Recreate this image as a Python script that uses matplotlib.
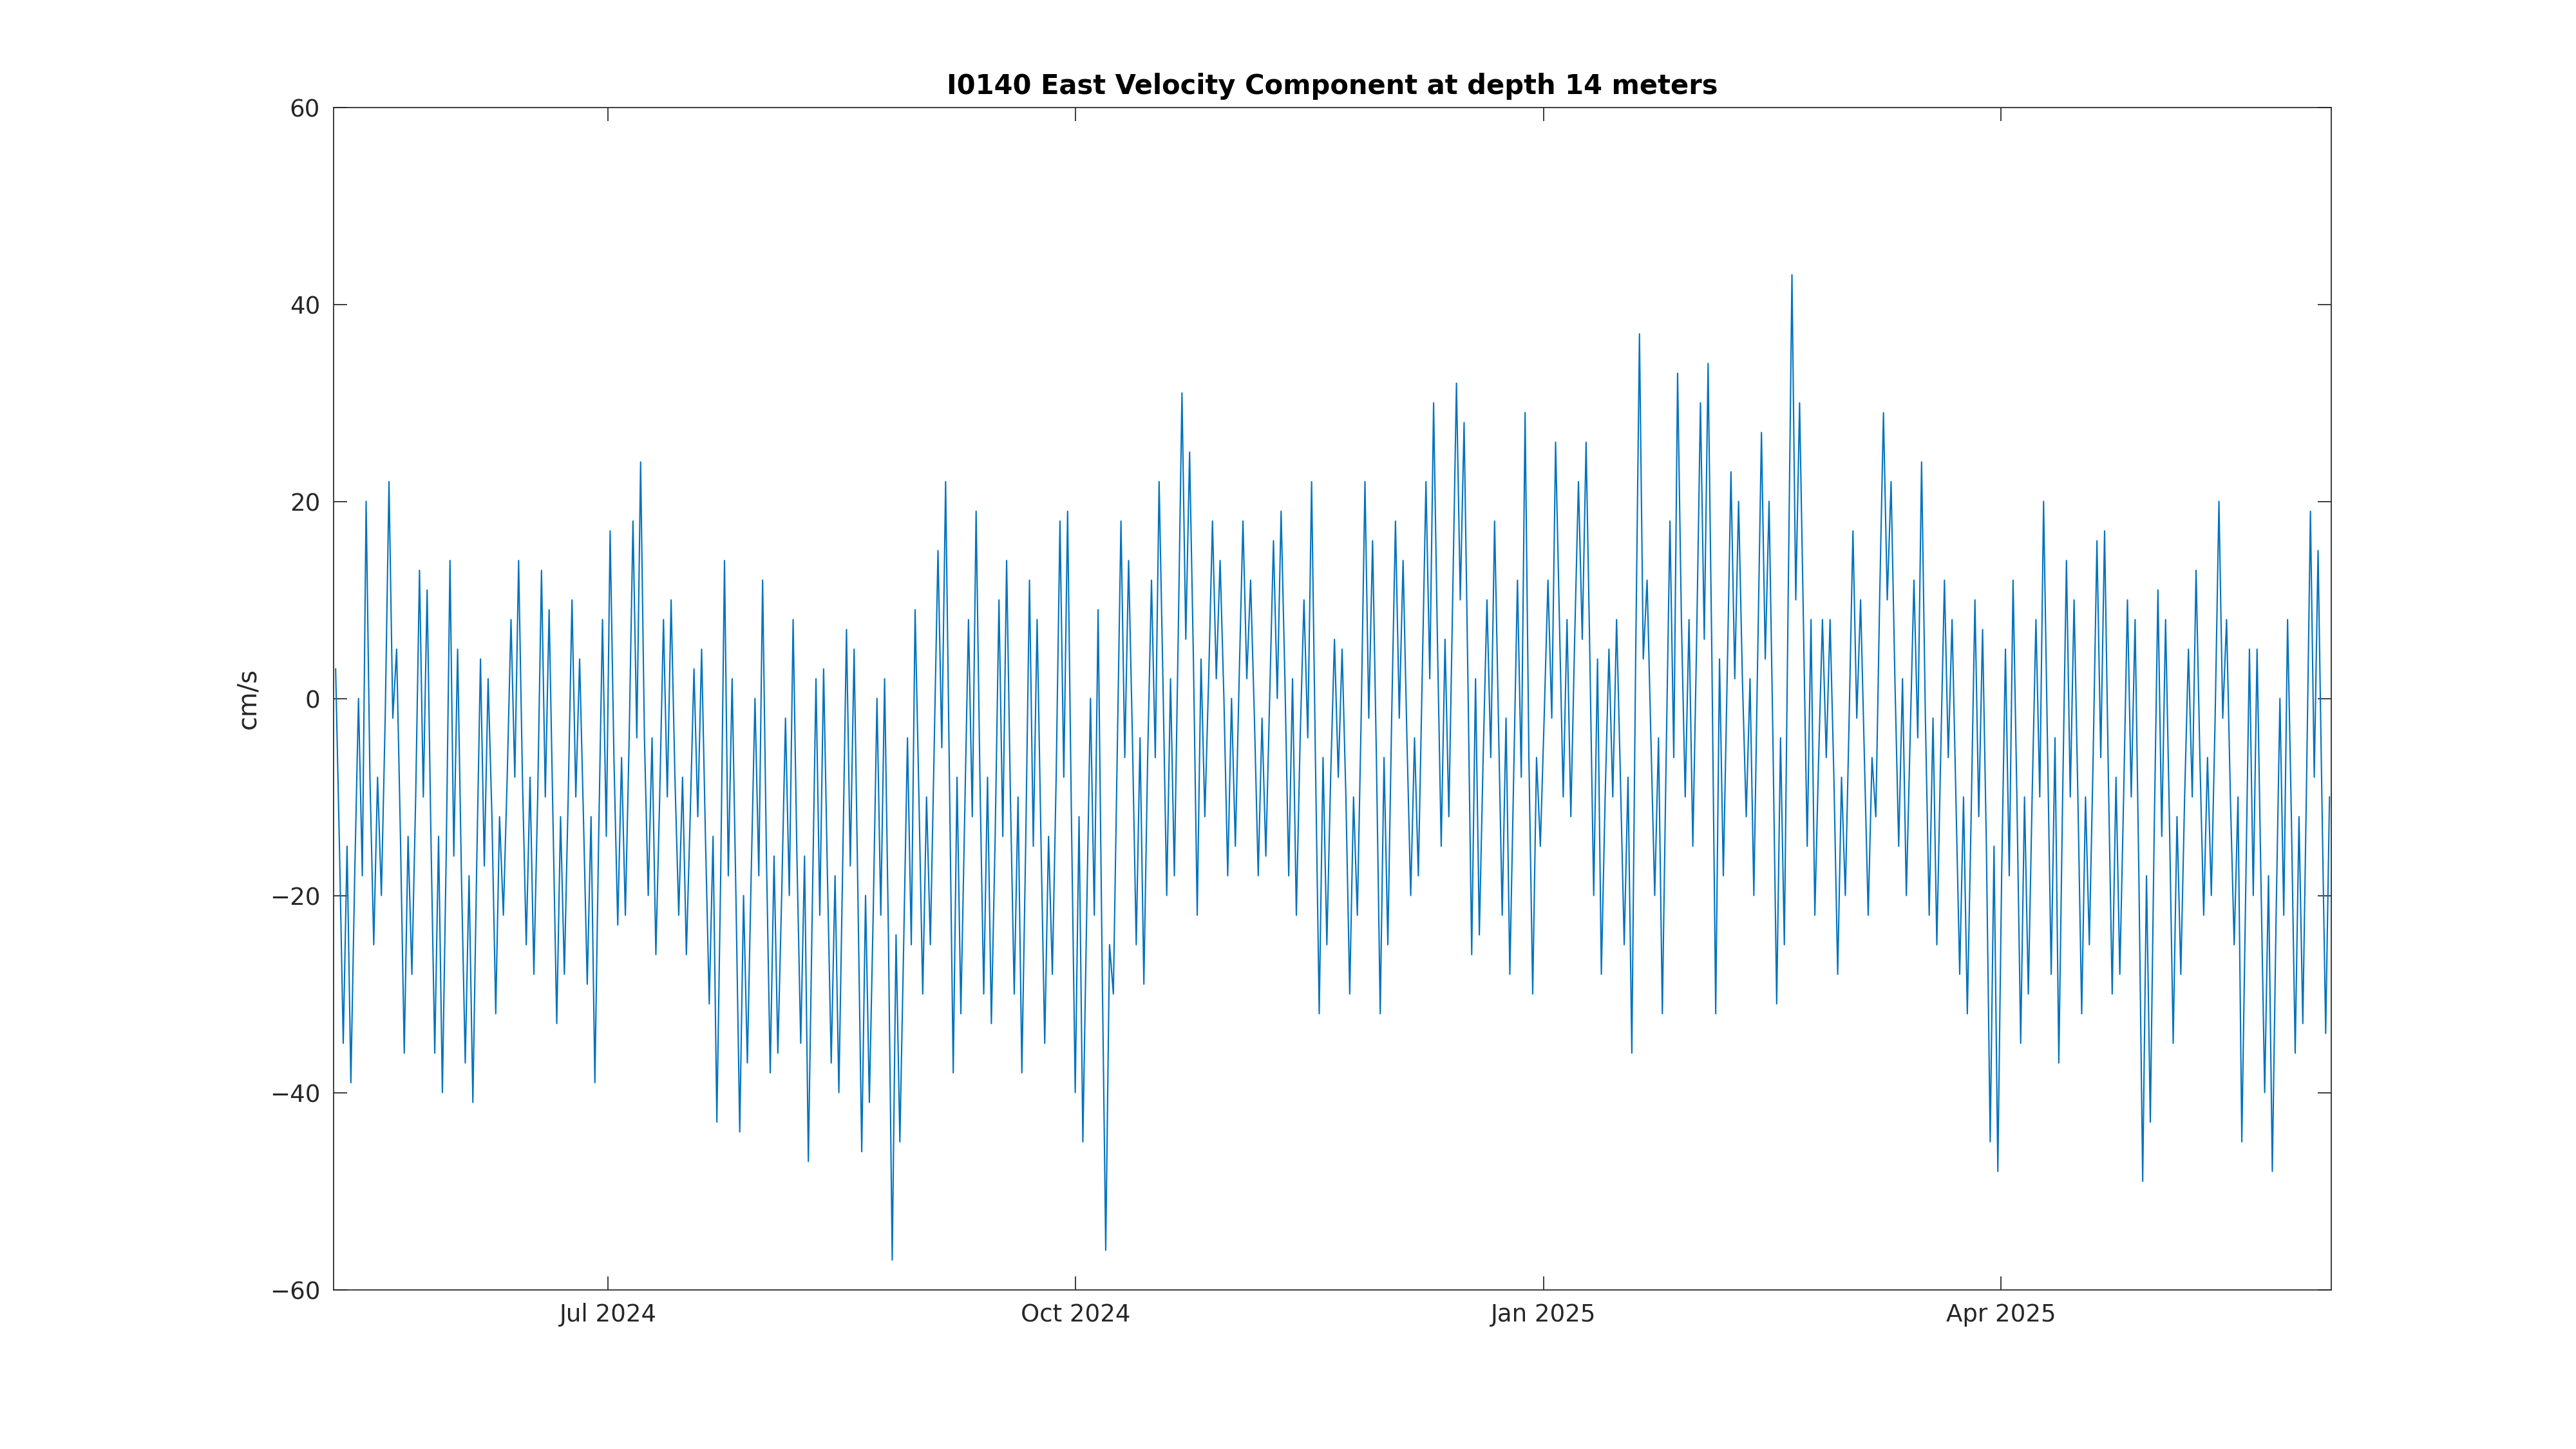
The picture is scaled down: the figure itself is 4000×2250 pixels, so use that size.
import numpy as np
import pandas as pd
import matplotlib
matplotlib.use("Agg")
import matplotlib.pyplot as plt
import matplotlib.dates as mdates

# 3-day bins from 2024-05-08, estimated low / centre / high of the east velocity (cm/s)
start = "2024-05-08"
lows = [-35, -39, -25, -20, -36, -28, -36, -40, -37, -41, -32, -22, -25, -28, -33, -28, -29, -39, -23, -22,
        -20, -26, -22, -26, -31, -43, -44, -37, -38, -36, -35, -47, -37, -40, -46, -41, -57, -45, -30, -25,
        -38, -32, -30, -33, -30, -38, -35, -28, -40, -45, -56, -30, -25, -29, -20, -18, -22, -12, -18, -15,
        -18, -16, -18, -22, -32, -25, -30, -22, -32, -25, -20, -18, -15, -12, -26, -24, -22, -28, -30, -15,
        -10, -12, -20, -28, -25, -36, -20, -32, -10, -15, -32, -18, -12, -20, -31, -25, -15, -22, -28, -20,
        -22, -12, -15, -20, -22, -25, -28, -32, -45, -48, -35, -30, -28, -37, -32, -25, -30, -28, -49, -43,
        -35, -28, -22, -20, -25, -45, -40, -48, -36, -33, -34]
highs = [3, 0, 20, 22, 5, 13, 11, 14, 5, 4, 2, 8, 14, 13, 9, 10, 4, 8, 17, 18,
         24, 8, 10, 3, 5, 14, 2, 0, 12, -2, 8, 2, 3, 7, 5, 0, 2, -4, 9, 15,
         22, 8, 19, 10, 14, 12, 8, 18, 19, 0, 9, 18, 14, 12, 22, 31, 25, 18, 14, 18,
         12, 16, 19, 10, 22, 6, 5, 22, 16, 18, 14, 22, 30, 32, 28, 10, 18, 12, 29, 12,
         26, 22, 26, 5, 8, 37, 12, 18, 33, 30, 34, 23, 20, 27, 20, 43, 30, 8, 8, 17,
         10, 29, 22, 12, 24, 12, 8, 10, 7, 5, 12, 8, 20, 14, 10, 16, 17, 10, 8, 11,
         8, 5, 13, 20, 8, 5, 5, 0, 8, 19, 15]
centres = [-15, -18, -8, -2, -14, -10, -14, -16, -18, -17, -12, -8, -8, -10, -12, -10, -12, -14, -6, -4,
           -4, -10, -8, -12, -14, -18, -20, -18, -16, -20, -16, -22, -18, -17, -20, -22, -24, -25, -10, -5,
           -8, -12, -8, -14, -10, -15, -14, -8, -12, -22, -25, -6, -4, -6, 2, 6, 4, 2, 0, 2,
           -2, 0, 2, -4, -6, -8, -10, -2, -6, -2, -4, 2, 6, 10, 2, -6, -2, -8, -6, -2,
           8, 6, 4, -10, -8, 4, -4, -6, 8, 6, 4, 2, 2, 4, -4, 10, 8, -6, -8, -2,
           -6, 10, 2, -4, -2, -6, -10, -12, -15, -18, -10, -10, -4, -10, -10, -6, -8, -10, -18, -14,
           -12, -10, -6, -2, -10, -20, -18, -22, -12, -8, -10]

t0 = pd.Timestamp(start)
times, vals = [], []
for k, (lo, c, hi) in enumerate(zip(lows, centres, highs)):
    seq = [hi, c, lo, c] if k % 2 == 0 else [lo, c, hi, c]
    for j, v in enumerate(seq):
        times.append(t0 + pd.Timedelta(days=3 * k + 0.4 + 0.75 * j))
        vals.append(v)

fig = plt.figure(figsize=(16, 9), dpi=250)
ax = fig.add_axes([0.1295, 0.110, 0.7755, 0.816])
ax.plot(times, vals, color="#0072BD", lw=0.6)

ax.set_xlim(pd.Timestamp("2024-05-08"), pd.Timestamp("2025-06-05"))
ax.set_ylim(-60, 60)
ax.set_yticks(np.arange(-60, 61, 20))
ax.xaxis.set_major_locator(mdates.MonthLocator(bymonth=[1, 4, 7, 10]))
ax.xaxis.set_major_formatter(mdates.DateFormatter("%b %Y"))
ax.tick_params(direction="in", length=6, width=0.5, labelsize=10.7, colors="#262626",
               top=True, right=True, pad=6)
for s in ax.spines.values():
    s.set_linewidth(0.5)
    s.set_color("#262626")
ax.set_ylabel("cm/s", fontsize=11.5, color="#262626")
ax.set_title("I0140 East Velocity Component at depth 14 meters", fontsize=12,
             fontweight="bold", pad=6)

fig.savefig("out.png", dpi=250)
